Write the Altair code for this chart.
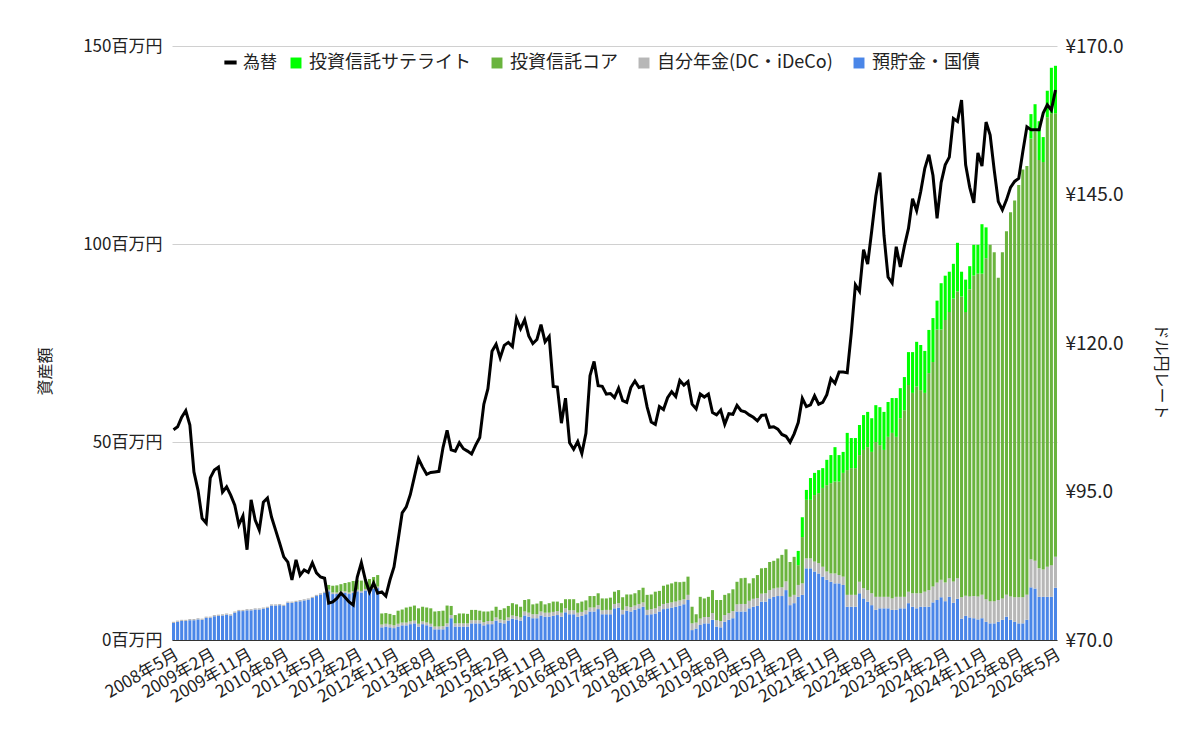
import json
import altair as alt
import pandas as pd

FONT = "Noto Sans CJK JP"

# ---- categories -------------------------------------------------------
MONTHS = []
_y, _m = 2008, 5
for _ in range(217):
    MONTHS.append(f"{_y}年{_m}月")
    _m += 1
    if _m > 12:
        _m = 1
        _y += 1
TICKS = MONTHS[::9]

SERIES = ["投資信託サテライト", "投資信託コア", "自分年金(DC・iDeCo)", "預貯金・国債"]
COLORS = ["#00ff00", "#6ab43e", "#b7b7b7", "#4a86e8"]

# ---- values (百万円) ----------------------------------------------------
BLUE = [
    4.3, 4.6, 4.8, 4.8, 5.0, 5.0, 5.2, 5.1, 5.6, 5.6,
    6.0, 6.1, 6.2, 6.4, 6.2, 6.9, 7.3, 7.3, 7.5, 7.5,
    7.7, 7.7, 7.9, 8.1, 8.7, 8.7, 8.8, 8.6, 9.4, 9.4,
    9.6, 9.8, 10.0, 10.2, 10.6, 11.1, 11.5, 11.9, 12.3, 11.6,
    11.6, 11.9, 11.9, 11.6, 11.9, 12.3, 12.0, 12.5, 12.6, 12.9,
    13.1,
    3.2, 3.4, 3.2, 3.0, 3.4, 3.7, 3.7, 4.0, 4.2, 3.4,
    4.0, 3.7, 3.4, 2.7, 2.7, 2.7, 3.4, 5.5, 3.4, 3.4,
    3.4, 3.4, 4.2, 4.2, 4.2, 3.7, 4.0, 4.0, 4.9, 4.4,
    4.2, 4.9, 5.4, 5.2, 4.9, 6.2, 5.9, 5.5, 5.5, 6.2,
    5.9, 5.9, 6.1, 6.3, 5.9, 7.0, 6.5, 6.5, 5.9, 6.1,
    6.5, 7.2, 7.2, 7.8, 6.5, 6.5, 6.5, 8.0, 8.2, 6.5,
    7.4, 7.2, 7.6, 8.0, 8.4, 6.3, 6.5, 6.7, 7.2, 7.8,
    8.0, 8.2, 8.4, 8.7, 9.0, 10.1,
    2.5, 2.9, 3.8, 4.2, 4.2, 5.1, 3.4, 3.2, 4.6, 5.1,
    5.5, 7.2, 7.2, 7.2, 8.0, 8.4, 8.6, 9.7, 9.7, 10.5,
    10.9, 11.1, 11.1, 12.6, 8.8, 9.3, 10.9,
    11.4, 18.1, 18.1, 17.3, 16.8, 16.0, 15.2, 14.7, 14.3, 14.3,
    13.9, 8.4, 8.4, 8.4, 11.8, 10.5, 9.7, 8.8, 7.6, 8.0,
    8.0, 8.0, 7.6, 7.6, 8.0, 8.0, 9.3, 8.4, 8.0, 8.4,
    8.4, 8.4,
    9.5, 10.1, 10.8, 9.8, 10.9, 9.4, 10.4, 5.4, 6.1, 5.7,
    5.5, 5.2, 5.5, 4.6, 4.2, 4.2, 4.6, 5.1, 5.9, 5.1,
    4.6, 4.2, 4.2, 5.1, 13.3, 13.0, 10.9, 10.9, 10.9, 10.9, 13.2,
]

GREY = [
    0.3, 0.3, 0.3, 0.3, 0.3, 0.3, 0.3, 0.3, 0.3, 0.3,
    0.3, 0.3, 0.3, 0.3, 0.3, 0.3, 0.3, 0.3, 0.3, 0.3,
    0.3, 0.3, 0.3, 0.3, 0.3, 0.3, 0.3, 0.3, 0.3, 0.3,
    0.3, 0.3, 0.3, 0.3, 0.3, 0.3, 0.3, 0.3, 0.4, 0.4,
    0.4, 0.4, 0.4, 0.4, 0.4, 0.4, 0.4, 0.4, 0.4, 0.4,
    0.4,
    0.7, 0.7, 0.7, 0.7, 0.7, 0.7, 0.7, 0.7, 0.7, 0.7,
    0.7, 0.7, 0.7, 0.7, 0.7, 0.8, 0.8, 0.8, 0.8, 0.8,
    0.8, 0.8, 0.8, 0.8, 0.8, 0.8, 0.8, 0.8, 0.8, 0.8,
    0.8, 0.8, 0.8, 0.8, 0.8, 1.0, 1.0, 1.0, 1.0, 1.0,
    1.0, 1.0, 1.0, 1.0, 1.0, 1.0, 1.0, 1.0, 1.0, 1.0,
    1.0, 1.0, 1.0, 1.0, 1.0, 1.1, 1.1, 1.1, 1.1, 1.1,
    1.1, 1.1, 1.1, 1.1, 1.1, 1.3, 1.3, 1.3, 1.3, 1.3,
    1.3, 1.3, 1.3, 1.3, 1.3, 1.3,
    1.7, 1.5, 1.6, 1.6, 1.6, 1.7, 1.6, 1.6, 1.7, 1.7,
    1.8, 1.8, 1.9, 1.9, 1.9, 2.0, 2.0, 2.0, 2.1, 2.1,
    2.1, 2.1, 2.2, 2.2, 2.1, 2.1, 3.0,
    2.9, 2.5, 2.5, 2.5, 2.6, 2.5, 2.1, 2.1, 2.5, 2.1,
    2.1, 3.0, 3.0, 3.0, 2.9, 2.6, 2.9, 3.0, 3.3, 2.9,
    2.9, 2.9, 2.9, 3.3, 2.9, 2.9, 2.9, 3.4, 3.8, 3.4,
    3.8, 4.2,
    4.0, 4.4, 4.4, 4.7, 4.7, 5.4, 5.2, 5.4, 5.1, 5.3,
    5.6, 5.8, 5.9, 5.7, 5.6, 5.6, 5.5, 5.4, 5.5, 5.9,
    6.2, 6.6, 6.6, 6.3, 7.1, 7.0, 7.2, 6.9, 7.6, 8.0, 7.8,
]

CORE = [
    0, 0, 0, 0, 0, 0, 0, 0, 0, 0,
    0, 0, 0, 0, 0, 0, 0, 0, 0, 0,
    0, 0, 0, 0, 0, 0, 0, 0, 0, 0,
    0, 0, 0, 0, 0, 0, 0, 0, 1.2, 1.7,
    1.8, 1.8, 2.1, 2.6, 2.6, 2.4, 2.6, 2.4, 2.4, 2.6,
    2.9,
    2.8, 2.7, 2.7, 2.6, 3.3, 3.3, 3.8, 3.7, 3.8, 3.9,
    3.7, 3.8, 3.9, 3.8, 3.9, 3.9, 4.5, 2.3, 2.1, 2.5,
    2.5, 2.4, 2.6, 2.6, 2.4, 2.7, 2.4, 2.6, 2.7, 2.4,
    3.0, 2.9, 3.1, 3.0, 2.7, 2.9, 3.4, 2.5, 2.7, 2.6,
    2.1, 2.4, 2.6, 2.4, 2.4, 2.3, 2.8, 2.8, 2.4, 2.6,
    2.5, 2.9, 2.9, 3.0, 3.0, 2.9, 3.1, 3.1, 3.3, 3.2,
    3.0, 3.2, 3.1, 3.5, 3.7, 3.8, 3.7, 4.2, 3.9, 4.6,
    4.7, 4.8, 5.0, 4.6, 4.4, 4.6,
    4.2, 2.1, 5.5, 4.7, 5.1, 5.8, 5.1, 5.3, 5.1, 5.0,
    5.5, 5.7, 6.5, 6.6, 4.4, 5.2, 5.8, 6.4, 6.4, 7.1,
    7.0, 7.4, 8.2, 8.1, 8.8, 9.6, 5.0,
    11.7, 14.8, 14.8, 16.8, 17.7, 19.9, 21.8, 22.8, 23.2, 23.6,
    26.2, 31.5, 32.0, 32.0, 32.0, 34.9, 36.1, 35.7, 39.1, 38.3,
    37.1, 40.4, 41.8, 40.4, 45.1, 47.1, 52.2, 50.6, 52.2, 51.3,
    50.2, 54.8,
    56.7, 63.9, 63.2, 66.3, 67.2, 71.4, 72.4, 75.9, 71.6, 77.6,
    80.9, 81.5, 81.1, 86.1, 90.0, 88.1, 81.4, 87.4, 91.8, 97.0,
    100.2, 104.1, 108.0, 108.3, 106.2, 108.5, 103.1, 102.9, 113.5, 114.1, 112.0,
]

SAT = [
    0, 0, 0, 0, 0, 0, 0, 0, 0, 0,
    0, 0, 0, 0, 0, 0, 0, 0, 0, 0,
    0, 0, 0, 0, 0, 0, 0, 0, 0, 0,
    0, 0, 0, 0, 0, 0, 0, 0, 0, 0,
    0, 0, 0, 0, 0, 0, 0, 0, 0, 0,
    0,
    0, 0, 0, 0, 0, 0, 0, 0, 0, 0,
    0, 0, 0, 0, 0, 0, 0, 0, 0, 0,
    0, 0, 0, 0, 0, 0, 0, 0, 0, 0,
    0, 0, 0, 0, 0, 0, 0, 0, 0, 0,
    0, 0, 0, 0, 0, 0, 0, 0, 0, 0,
    0, 0, 0, 0, 0, 0, 0, 0, 0, 0,
    0, 0, 0, 0, 0, 0, 0, 0, 0, 0,
    0, 0, 0, 0, 0, 0,
    0, 0, 0, 0, 0, 0, 0, 0, 0, 0,
    0, 0, 0, 0, 0, 0, 0, 0, 0, 0,
    0, 0, 0, 0, 0, 0, 3.6,
    5.0, 2.5, 5.5, 5.6, 5.8, 5.0, 6.4, 7.1, 8.7, 6.7,
    5.3, 9.4, 7.6, 7.6, 7.6, 8.8, 8.9, 8.5, 9.3, 9.6,
    9.6, 8.8, 8.8, 9.8, 7.6, 8.4, 8.3, 10.3, 11.3, 11.4,
    10.6, 10.9,
    11.1, 7.3, 11.7, 11.2, 10.2, 8.8, 12.3, 6.3, 8.2, 5.8,
    7.8, 7.3, 12.5, 7.8, 0, 0, 0, 0, 0, 0,
    0, 0, 0, 0, 6.2, 6.8, 9.8, 6.3, 6.7, 11.5, 12.0,
]

# ---- USD/JPY month-end rate ---------------------------------------------
RATE = [
    105.4, 105.9, 107.5, 108.6, 106.2, 98.3, 95.2, 90.5,
    89.7, 97.3, 98.6, 99.1, 94.9, 95.8, 94.4, 92.7, 89.4, 90.9, 85.2, 93.6,
    90.2, 88.5, 93.2, 93.9, 90.7, 88.5, 86.3, 84.0, 83.1, 80.1, 83.5, 80.9,
    81.8, 81.4, 83.0, 81.3, 80.6, 80.4, 76.2, 76.4, 77.0, 77.9, 77.2, 76.4,
    75.9, 80.6, 83.0, 80.1, 78.1, 79.6, 77.9, 78.1, 77.4, 80.1, 82.3, 86.8,
    91.4, 92.4, 94.5, 97.5, 100.5, 99.1, 97.9, 98.2, 98.3, 98.4, 102.4, 105.3,
    102.0, 101.8, 103.2, 102.2, 101.8, 101.3, 102.8, 104.1, 109.7, 112.3, 118.6, 119.8,
    117.5, 119.6, 120.1, 119.4, 124.1, 122.4, 123.9, 121.2, 119.9, 120.6, 123.1, 120.2,
    121.1, 112.7, 112.6, 106.5, 110.7, 103.2, 102.1, 103.4, 101.4, 104.8, 114.5, 116.9,
    112.8, 112.7, 111.4, 111.5, 110.8, 112.4, 110.3, 110.0, 112.5, 113.6, 112.5, 112.7,
    109.2, 106.7, 106.3, 109.3, 108.8, 110.8, 111.8, 111.0, 113.7, 112.9, 113.5, 109.7,
    108.9, 111.4, 110.9, 111.4, 108.3, 107.9, 108.7, 106.3, 108.1, 108.0, 109.5, 108.6,
    108.4, 107.9, 107.5, 106.9, 107.8, 107.9, 105.8, 105.9, 105.5, 104.6, 104.3, 103.3,
    104.7, 106.6, 110.7, 109.3, 109.6, 111.1, 109.7, 110.0, 111.3, 114.0, 113.2, 115.1,
    115.1, 115.0, 121.7, 129.8, 128.7, 135.7, 133.3, 138.9, 144.7, 148.7, 138.1, 131.1,
    130.1, 136.2, 132.8, 136.3, 139.3, 144.3, 142.3, 145.5, 149.4, 151.7, 148.2, 141.0,
    147.0, 150.0, 151.3, 157.8, 157.3, 160.9, 150.0, 146.2, 143.6, 152.0, 149.8, 157.2,
    155.0, 149.1, 143.8, 142.4, 144.1, 146.2, 147.2, 147.7, 152.2, 156.4, 155.9, 155.9,
    155.9, 158.7, 160.1, 159.2, 162.6,
]

for _arr in (BLUE, GREY, CORE, SAT, RATE):
    assert len(_arr) == len(MONTHS), len(_arr)

# ---- tables -----------------------------------------------------------
rows = []
for i, mo in enumerate(MONTHS):
    for order, (name, arr) in enumerate(
        [("預貯金・国債", BLUE), ("自分年金(DC・iDeCo)", GREY),
         ("投資信託コア", CORE), ("投資信託サテライト", SAT)]):
        rows.append({"month": mo, "series": name, "value": arr[i], "ord": order})
bar_df = pd.DataFrame(rows)
rate_df = pd.DataFrame({"month": MONTHS, "rate": RATE, "series": ["為替"] * len(MONTHS)})

tick_js = json.dumps(TICKS, ensure_ascii=False)
x_enc = alt.X(
    "month:N", sort=MONTHS,
    scale=alt.Scale(paddingInner=0.25, paddingOuter=0),
    axis=alt.Axis(labelExpr=f"indexof({tick_js}, datum.value) >= 0 ? datum.value : ''",
                  labelAngle=-30, title=None, domain=True,
                  domainColor="#333333", ticks=False, labelPadding=6,
                  labelFontSize=17, labelOverlap=False, labelFlush=False,
                  labelBound=False, grid=False),
)

bars = alt.Chart(bar_df).mark_bar().encode(
    x=x_enc,
    y=alt.Y("value:Q", stack="zero", scale=alt.Scale(domain=[0, 150]),
            axis=alt.Axis(values=[0, 50, 100, 150], labelExpr="datum.value + '百万円'",
                          title="資産額", grid=True, gridColor="#d0d0d0",
                          labelFontSize=17, labelPadding=10, titleX=-127,
                          titleY=325, titleAngle=-90,
                          titleAlign="center", titleBaseline="middle")),
    color=alt.Color("series:N", scale=alt.Scale(domain=SERIES, range=COLORS),
                    legend=alt.Legend(orient="none", legendX=115, legendY=8,
                                      direction="horizontal", title=None,
                                      symbolType="square", symbolSize=120,
                                      symbolStrokeWidth=0, labelFontSize=18,
                                      labelColor="#222222", labelOffset=4,
                                      columnPadding=17, labelLimit=300, padding=0)),
    order=alt.Order("ord:Q"),
)

line = alt.Chart(rate_df).mark_line(strokeWidth=3).encode(
    x=alt.X("month:N", sort=MONTHS),
    y=alt.Y("rate:Q", scale=alt.Scale(domain=[70, 170], zero=False),
            axis=alt.Axis(orient="right", values=[70, 95, 120, 145, 170],
                          labelExpr="'¥' + format(datum.value, '.1f')",
                          title="ドル円レート", grid=False, labelPadding=8,
                          labelFontSize=19, titleX=103, titleY=325, titleAngle=90,
                          titleAlign="center", titleBaseline="middle")),
    stroke=alt.Stroke("series:N", scale=alt.Scale(domain=["為替"], range=["#000000"]),
                      legend=alt.Legend(orient="none", legendX=50, legendY=8,
                                        direction="horizontal", title=None,
                                        symbolType="stroke", symbolSize=150,
                                        symbolStrokeWidth=4, labelFontSize=17,
                                        labelColor="#222222", labelOffset=4,
                                        padding=0)),
)

chart = (
    alt.layer(bars, line)
    .resolve_scale(y="independent")
    .properties(width=885, height=594,
                autosize=alt.AutoSizeParams(type="none"),
                padding={"left": 164, "top": 38, "right": 135, "bottom": 92})
    .configure(font=FONT)
    .configure_view(stroke=None)
    .configure_axis(labelFont=FONT, labelFontSize=17, labelColor="#222222",
                    titleFont=FONT, titleFontSize=16, titleFontWeight="normal",
                    titleColor="#222222", domain=False, ticks=False)
    .configure_legend(labelFont=FONT)
)

chart.save("out.html", embed_options={"renderer": "svg", "actions": False})
